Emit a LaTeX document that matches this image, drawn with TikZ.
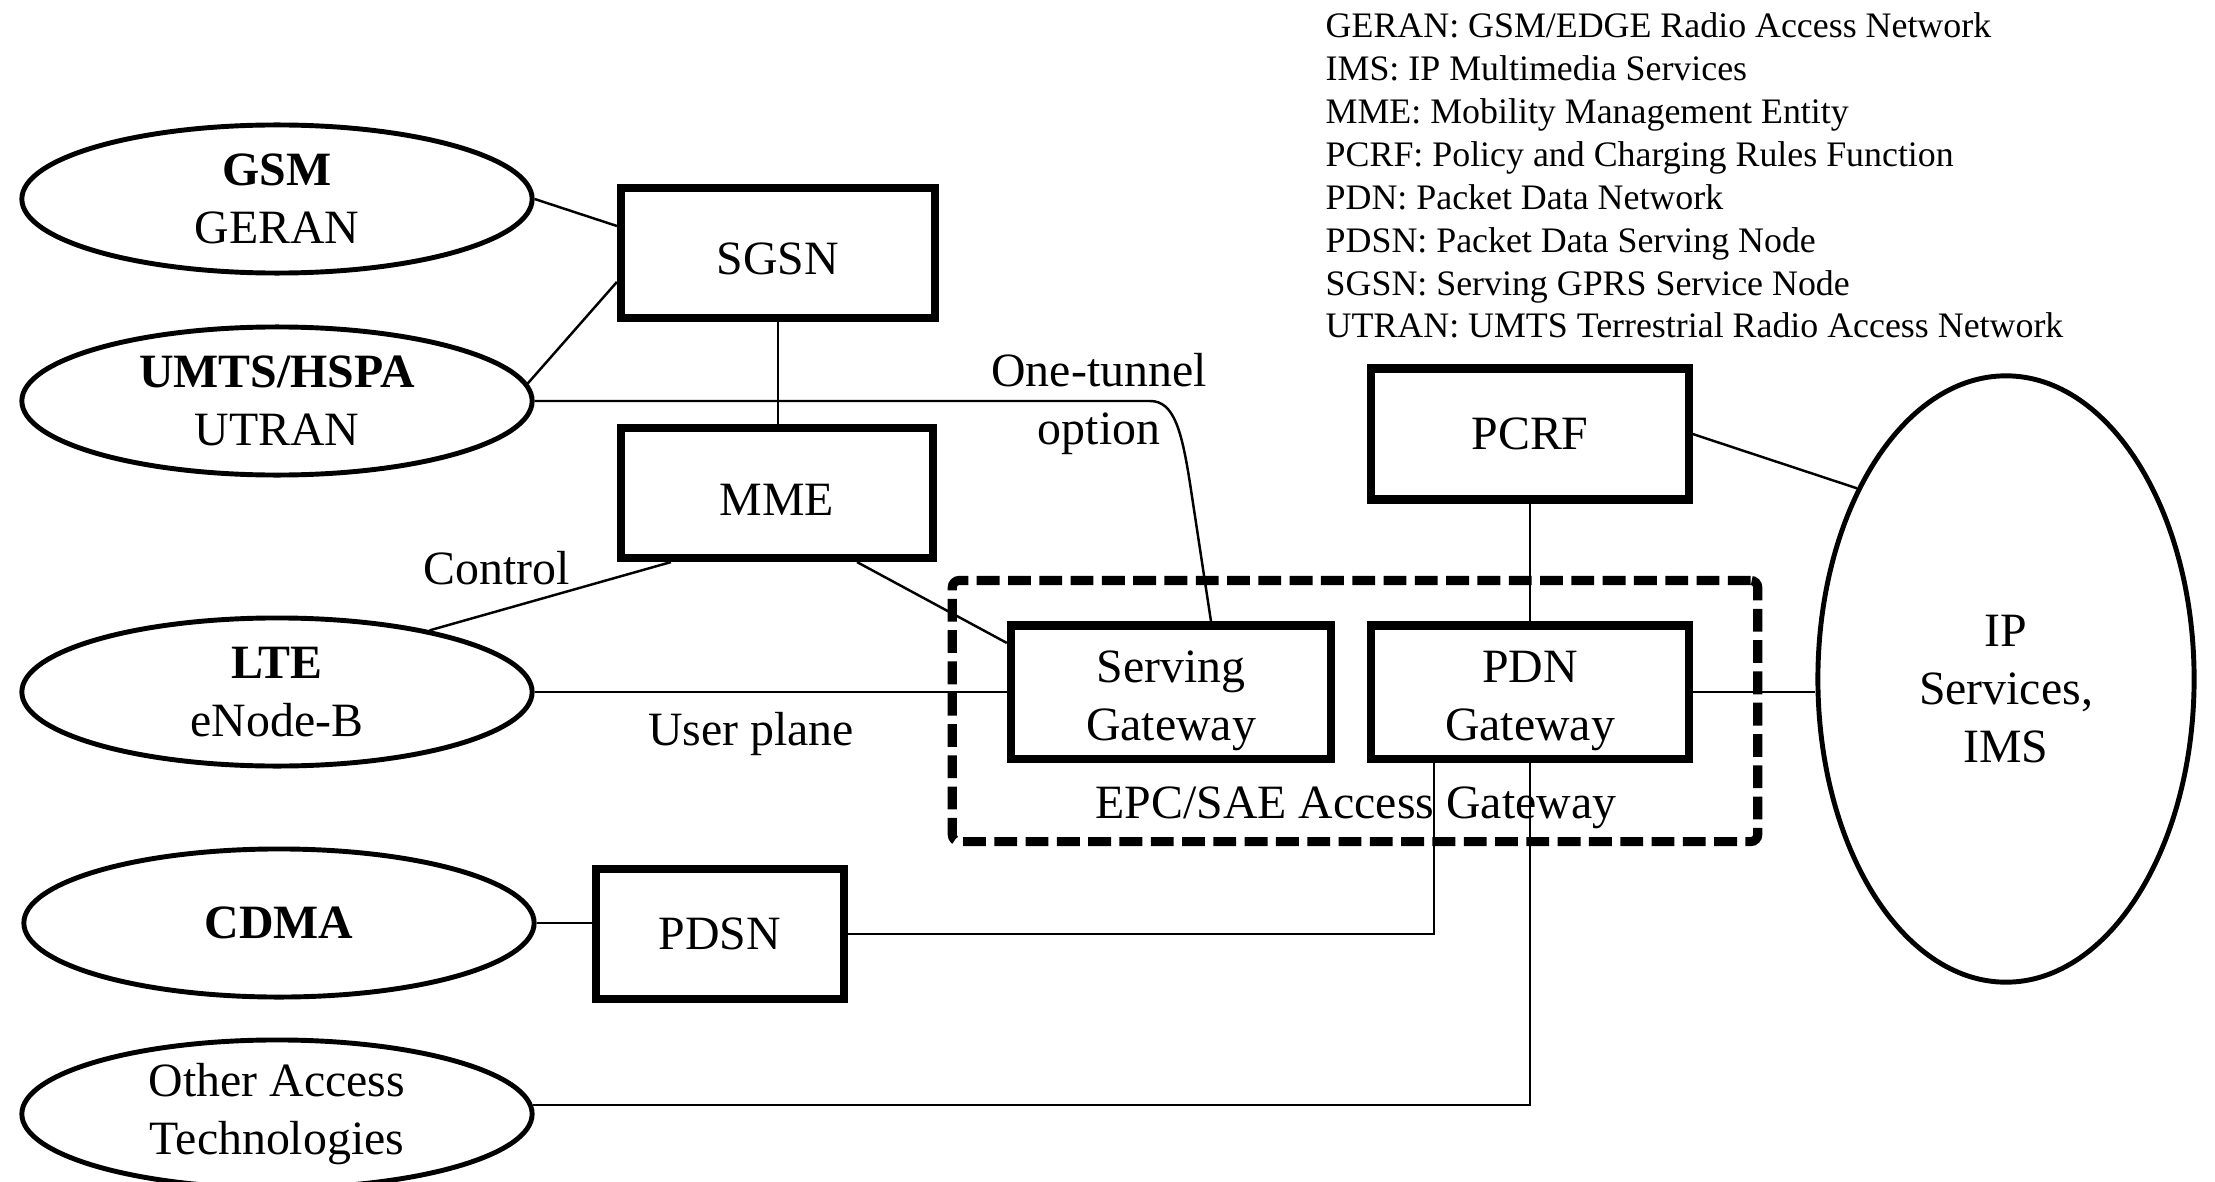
\documentclass[tikz,border=0pt]{standalone}
\usepackage{fontspec}
\setmainfont{Liberation Serif}
\usetikzlibrary{shapes.geometric,calc}
\begin{document}
\begin{tikzpicture}[x=0.01cm,y=-0.01cm,
  every node/.style={font=\fontsize{13.6}{16.6}\selectfont, align=center, inner sep=0pt},
  netel/.style={ellipse, draw, line width=1.4pt, minimum width=5.10cm, minimum height=1.48cm},
  ipel/.style={ellipse, draw, line width=1.4pt, minimum width=3.76cm, minimum height=6.06cm},
  box/.style={rectangle, draw, line width=2.3pt},
  conn/.style={line width=0.7pt},
  epcbox/.style={rectangle, draw, line width=2.6pt, dash pattern=on 6.5pt off 2.4pt, rounded corners=2pt}]
\useasboundingbox (0,0) rectangle (2215,1182);

% dashed frame
\node[epcbox, minimum width=8.05cm, minimum height=2.61cm] (epcframe) at (1355,711) {};

% access networks
\node[netel] (gsm) at (277,199) {\textbf{GSM}\\GERAN};
\node[netel] (umts) at (277,401) {\textbf{UMTS/HSPA}\\UTRAN};
\node[netel] (lte) at (277,692) {\textbf{LTE}\\eNode-B};
\node[netel] (cdma) at (279,923) {\textbf{CDMA}};
\node[netel] (other) at (277,1114) {Other Access\\Technologies};

% boxes
\node[box, minimum width=3.14cm, minimum height=1.30cm, text height=12.6pt] (sgsn) at (778,253) {SGSN};
\node[box, minimum width=3.12cm, minimum height=1.30cm, text height=12.6pt] (mme) at (777,493) {MME};
\node[box, minimum width=3.20cm, minimum height=1.33cm, text height=30.7pt] (sgw) at (1171,692) {Serving\\Gateway};
\node[box, minimum width=3.17cm, minimum height=1.33cm, text height=30.7pt] (pdn) at (1530,692) {PDN\\Gateway};
\node[box, minimum width=3.17cm, minimum height=1.31cm] (pcrf) at (1530,434) {PCRF};
\node[box, minimum width=2.47cm, minimum height=1.30cm] (pdsn) at (720,934) {PDSN};
\node[ipel, text height=47.8pt] (ip) at (2006,679) {IP\\Services,\\IMS};

% labels
\node (tunnel) at (1099,404) {One-tunnel\\option};
\node (control) at (497,568) {Control};
\node (user) at (751,734) {User plane};
\node (epc) at (1356,808) {EPC/SAE Access Gateway};

\node[anchor=north west, align=left, font=\fontsize{10.2}{12.2}\selectfont] (legend) at (1325,12) {GERAN: GSM/EDGE Radio Access Network\\
IMS: IP Multimedia Services\\
MME: Mobility Management Entity\\
PCRF: Policy and Charging Rules Function\\
PDN: Packet Data Network\\
PDSN: Packet Data Serving Node\\
SGSN: Serving GPRS Service Node\\
UTRAN: UMTS Terrestrial Radio Access Network};

% connectors
\coordinate (tbend) at (1150,0);
\coordinate (tend) at (1211,0);
\draw[conn] (gsm.east) -- ([yshift=0.27cm]sgsn.west);
\draw[conn] (umts.4) -- ([yshift=-0.29cm]sgsn.west);
\draw[conn] (umts.east) -- (umts.east -| tbend) .. controls +(24,0) and +(-9,-60) .. (1191,490) -- (tend |- sgw.north);
\draw[conn] (sgsn.south) -- (sgsn.south |- mme.north);
\draw[conn] ([xshift=-1.06cm]mme.south) -- (lte.22);
\draw[conn] ([xshift=0.80cm]mme.south) -- ([yshift=0.49cm]sgw.west);
\draw[conn] (lte.east) -- (lte.east -| sgw.west);
\draw[conn] (pcrf.south) -- (pdn.north);
\draw[conn] (pcrf.east) -- (ip.128);
\draw[conn] (pdn.east) -- (pdn.east -| ip.west);
\draw[conn] ([xshift=-0.96cm]pdn.south) |- (pdsn.east);
\draw[conn] (pdn.south) |- (other.2);
\draw[conn] (cdma.east) -- (cdma.east -| pdsn.west);
\end{tikzpicture}
\end{document}
